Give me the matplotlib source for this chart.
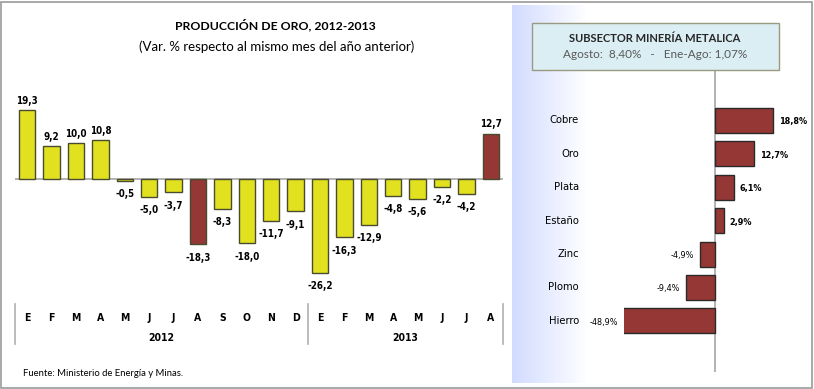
#! /usr/bin/env python3
# -*- coding: utf-8 -*-

import numpy as np
import matplotlib
matplotlib.use('Agg')
import matplotlib.pyplot as plt
from matplotlib import font_manager
from matplotlib.patches import Rectangle
from matplotlib.transforms import blended_transform_factory

W, H = 814, 389

# left chart data
months = ['E', 'F', 'M', 'A', 'M', 'J', 'J', 'A', 'S', 'O', 'N', 'D',
          'E', 'F', 'M', 'A', 'M', 'J', 'J', 'A']
years = ['2012', '2013']
year_counts = [12, 8]
oro_var = [19.3, 9.2, 10.0, 10.8, -0.5, -5.0, -3.7, -18.3, -8.3, -18.0, -11.7, -9.1,
           -26.2, -16.3, -12.9, -4.8, -5.6, -2.2, -4.2, 12.7]
highlight = [7, 19]

# right chart data
metals = ['Cobre', 'Oro', 'Plata', 'Estaño', 'Zinc', 'Plomo', 'Hierro']
metal_var = [18.8, 12.7, 6.1, 2.9, -4.9, -9.4, -48.9]
agosto = '8,40%'
ene_ago = '1,07%'

YELLOW = '#e1e11f'
RED = '#953735'
SANS = ['Lato', 'DejaVu Sans']


def pick_narrow():
    # prefer a condensed face that also comes in bold
    faces = font_manager.fontManager.ttflist
    for f in faces:
        if f.name == 'DejaVu Sans' and f.stretch == 'condensed':
            return dict(family=['DejaVu Sans'], stretch='condensed')
    for f in faces:
        w = f.weight if isinstance(f.weight, int) else 700 if f.weight == 'bold' else 400
        if ('Narrow' in f.name or 'Condensed' in f.name) and w >= 600:
            return dict(family=[f.name, 'DejaVu Sans'])
    return dict(family=['DejaVu Sans'])


NARROW = pick_narrow()


def box(left, top, right, bottom):
    return [left / W, 1 - bottom / H, (right - left) / W, (bottom - top) / H]


def fy(y):
    return 1 - y / H


def fmt(v):
    return ('%.1f' % v).replace('.', ',')


def main():
    fig = plt.figure(figsize=(W / 100, H / 100), dpi=100)

    # outer frame
    fig.patches.append(Rectangle((0.5 / W, 1.5 / H), (W - 2.5) / W, (H - 3) / H,
                                 transform=fig.transFigure, fill=False,
                                 edgecolor='#9a9a9a', lw=1.2))

    # right panel background gradient
    bg = fig.add_axes(box(512, 5, 812, 383), zorder=-5)
    grad = np.linspace(0, 1, 300)
    grad = np.clip(grad / 0.25, 0, 1)
    c0 = np.array([0.82, 0.86, 1.0])
    img = c0[None, :] + (1 - c0)[None, :] * grad[:, None]
    bg.imshow(img[None, :, :], aspect='auto', extent=[0, 1, 0, 1])
    bg.set_axis_off()

    # ---- left chart ----
    ax = fig.add_axes(box(15, 179 - 25 * 3.57, 503, 179 + 30 * 3.57))
    x = np.arange(len(oro_var))
    colors = [RED if i in highlight else YELLOW for i in x]
    ax.bar(x, oro_var, width=0.68, color=colors, edgecolor='#4a4a30', lw=1, zorder=3)
    ax.axhline(0, color='#a6a6a6', lw=1.2, zorder=2)
    ax.set_xlim(-0.5, len(oro_var) - 0.5)
    ax.set_ylim(-30, 25)
    ax.set_axis_off()
    for i, v in zip(x, oro_var):
        if v >= 0:
            ax.annotate(fmt(v), (i, v), xytext=(0, 3), textcoords='offset points',
                        ha='center', va='bottom', fontsize=7, fontweight='bold',
                        **NARROW)
        else:
            ax.annotate(fmt(v), (i, v), xytext=(0, -6), textcoords='offset points',
                        ha='center', va='top', fontsize=7, fontweight='bold',
                        **NARROW)

    trans = blended_transform_factory(ax.transData, fig.transFigure)
    for i, m in enumerate(months):
        fig.text(i, fy(318), m, transform=trans, ha='center', va='center',
                 fontsize=7.5, fontweight='bold', **NARROW)
    start = -0.5
    for yr, n in zip(years, year_counts):
        fig.text(start + n / 2, fy(338), yr, transform=trans, ha='center',
                 va='center', fontsize=7.5, fontweight='bold', **NARROW)
        start += n
    edge = -0.5
    for n in [0] + year_counts:
        edge += n
        fig.lines.append(plt.Line2D([edge, edge], [fy(304), fy(344)], transform=trans,
                                    color='#b0b0b0', lw=1.2))

    fig.text(275 / W, fy(25), 'PRODUCCIÓN DE ORO, 2012-2013', ha='center', va='center',
             fontsize=8.8, fontweight='bold', family=SANS)
    fig.text(277 / W, fy(47), '(Var. % respecto al mismo mes del año anterior)',
             ha='center', va='center', fontsize=9.5, family=SANS)
    fig.text(23 / W, fy(373), 'Fuente: Ministerio de Energía y Minas.', ha='left',
             va='center', fontsize=6.8, family=SANS)

    # ---- right chart ----
    ax2 = fig.add_axes(box(624, 70, 800, 372))
    ax2.patch.set_alpha(0)
    y = np.arange(len(metals))
    ax2.barh(y, metal_var, height=0.75, color=RED, edgecolor='#2a2a2a', lw=1, zorder=3)
    ax2.axvline(0, color='#a6a6a6', lw=1.2, zorder=2)
    ax2.set_xlim(-29.35, 27.4)
    ax2.set_ylim(7.53, -1.51)
    ax2.set_axis_off()
    ytrans = blended_transform_factory(fig.transFigure, ax2.transData)
    for i, (name, v) in enumerate(zip(metals, metal_var)):
        fig.text(579 / W, i, name, transform=ytrans, ha='right', va='center',
                 fontsize=8, **NARROW)
        lbl = fmt(v) + '%'
        if v >= 0:
            ax2.annotate(lbl, (v, i), xytext=(4, -1), textcoords='offset points',
                         ha='left', va='center', fontsize=6.5, fontweight='bold',
                         **NARROW)
        else:
            xv = max(v, ax2.get_xlim()[0])
            ax2.annotate(lbl, (xv, i), xytext=(-4, -1), textcoords='offset points',
                         ha='right', va='center', fontsize=6.5,
                         annotation_clip=False, **NARROW)

    fig.patches.append(Rectangle(box(532, 23, 779, 70)[:2], 247 / W, 47 / H,
                                 transform=fig.transFigure, facecolor='#dbeef3',
                                 edgecolor='#9a9a80', lw=1, zorder=5))
    fig.text(655 / W, fy(39), 'SUBSECTOR MINERÍA METALICA', ha='center', va='center',
             fontsize=8, fontweight='bold', family=SANS, color='#262626', zorder=6)
    fig.text(655 / W, fy(55), 'Agosto:  %s   -   Ene-Ago: %s' % (agosto, ene_ago),
             ha='center', va='center', fontsize=8.5, family=SANS, color='#595959',
             zorder=6)

    fig.savefig('out.png', dpi=100)


if __name__ == '__main__':
    main()
